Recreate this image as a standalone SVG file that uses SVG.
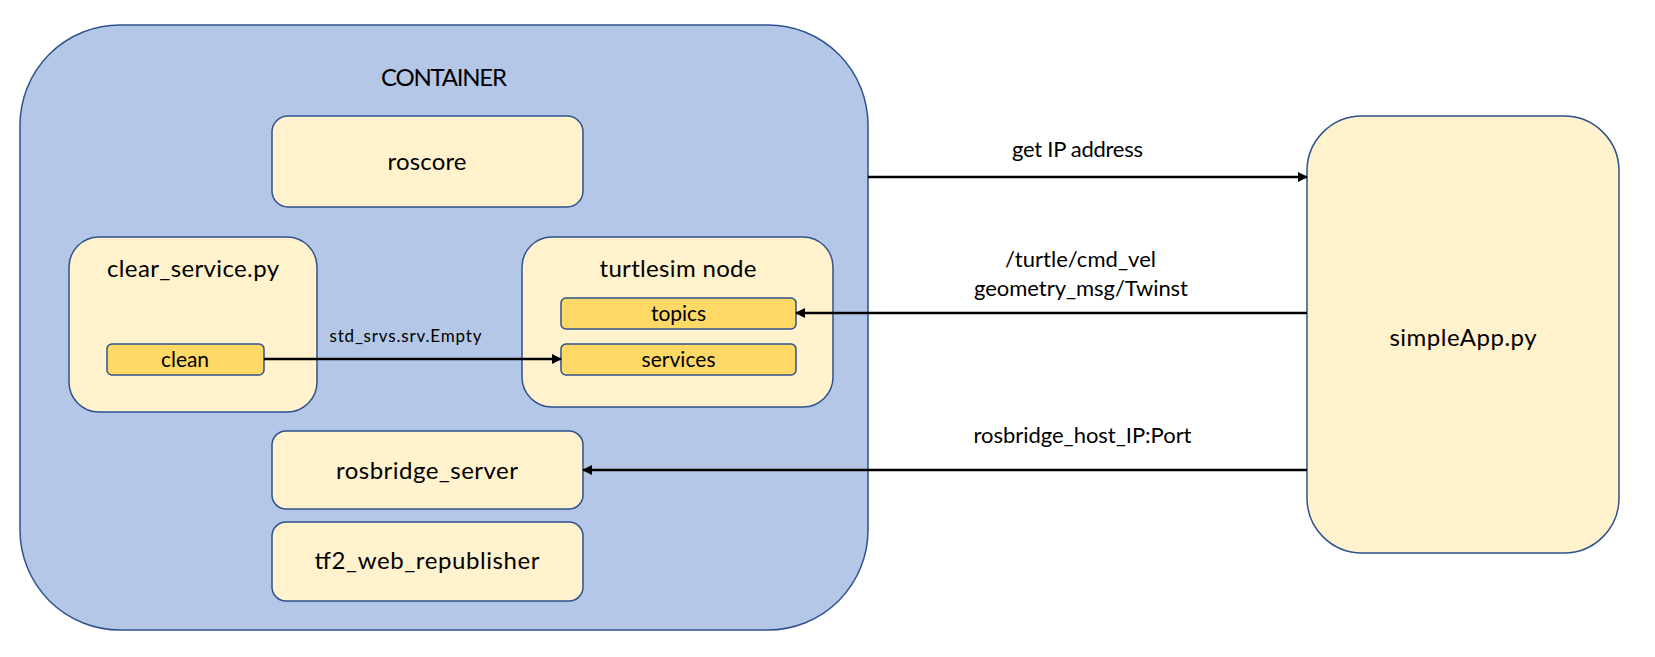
<svg xmlns="http://www.w3.org/2000/svg" width="1655" height="657" viewBox="0 0 1655 657">
<defs>
<style>
.node{fill:#FFF2CC;stroke:#2F528F;stroke-width:1.5}
.sub{fill:#FFD966;stroke:#2F528F;stroke-width:1.5}
.t{font-family:Lato,"Liberation Sans",sans-serif;fill:#000;text-anchor:middle}
.big{font-size:24px}
.mid{font-size:21px}
.lbl{font-size:22px}
.sm{font-size:17px}
.edge{stroke:#000;stroke-width:2.5;fill:none;marker-end:url(#ah)}
</style>
<marker id="ah" viewBox="0 0 10 10" refX="9" refY="5" markerWidth="4" markerHeight="4" orient="auto" markerUnits="strokeWidth">
<path d="M0,0 L10,5 L0,10 z" fill="#000"/>
</marker>
</defs>
<rect width="1655" height="657" fill="#fff"/>
<g id="container">
<rect x="20" y="25" width="848" height="605" rx="100" ry="100" fill="#B4C7E7" stroke="#2F528F" stroke-width="1.5"/>
<text class="t big" x="444" y="86" textLength="126">CONTAINER</text>
</g>
<g id="roscore">
<rect class="node" x="272" y="116" width="311" height="91" rx="16"/>
<text class="t big" x="427" y="170" textLength="79">roscore</text>
</g>
<g id="clear_service">
<rect class="node" x="69" y="237" width="248" height="175" rx="30"/>
<text class="t big" x="193" y="277" textLength="172">clear_service.py</text>
</g>
<g id="clean">
<rect class="sub" x="107" y="344" width="157" height="31" rx="5"/>
<text class="t mid" x="185" y="367" textLength="48">clean</text>
</g>
<g id="turtlesim">
<rect class="node" x="522" y="237" width="311" height="170" rx="30"/>
<text class="t big" x="678" y="277" textLength="157">turtlesim node</text>
</g>
<g id="topics">
<rect class="sub" x="561" y="298" width="235" height="31" rx="5"/>
<text class="t mid" x="678.5" y="320.5" textLength="55">topics</text>
</g>
<g id="services">
<rect class="sub" x="561" y="344" width="235" height="31" rx="5"/>
<text class="t mid" x="678.5" y="366.5" textLength="74">services</text>
</g>
<g id="rosbridge_server">
<rect class="node" x="272" y="431" width="311" height="78" rx="14"/>
<text class="t big" x="427" y="479" textLength="182">rosbridge_server</text>
</g>
<g id="tf2_web_republisher">
<rect class="node" x="272" y="522" width="311" height="79" rx="14"/>
<text class="t big" x="427" y="569" textLength="225">tf2_web_republisher</text>
</g>
<g id="simpleApp">
<rect class="node" x="1307" y="116" width="312" height="437" rx="55"/>
<text class="t big" x="1463" y="346" textLength="147">simpleApp.py</text>
</g>
<g id="connectors">
<line class="edge" x1="264" y1="359" x2="561" y2="359"/>
<line class="edge" x1="868" y1="177" x2="1307" y2="177"/>
<line class="edge" x1="1307" y1="313" x2="796" y2="313"/>
<line class="edge" x1="1307" y1="470" x2="583" y2="470"/>
<text class="t sm" x="405.5" y="341.5" textLength="152">std_srvs.srv.Empty</text>
<text class="t lbl" x="1077.5" y="156.5" textLength="131">get IP address</text>
<text class="t lbl" x="1080.5" y="266.5" textLength="151">/turtle/cmd_vel</text>
<text class="t lbl" x="1081" y="295.5" textLength="214">geometry_msg/Twinst</text>
<text class="t lbl" x="1082.5" y="442.5" textLength="218">rosbridge_host_IP:Port</text>
</g>
</svg>
